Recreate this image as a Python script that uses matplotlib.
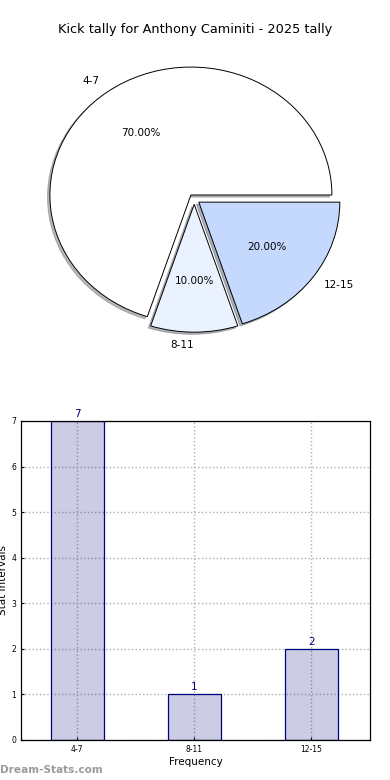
import numpy as np
import matplotlib
matplotlib.use("Agg")
import matplotlib.pyplot as plt

# data
categories = ["4-7", "8-11", "12-15"]
counts = [7, 1, 2]
pie_colors = ["#ffffff", "#eaf1ff", "#c5d9ff"]
title = "Kick tally for Anthony Caminiti - 2025 tally"

fig = plt.figure(figsize=(3.9, 7.8), dpi=100)

# ---- pie (not equal aspect, so it comes out as an ellipse)
ax1 = fig.add_axes([0.046, 0.5397, 0.904, 0.410])
wedges, texts, autotexts = ax1.pie(
    counts, labels=categories, colors=pie_colors, autopct="%.2f%%",
    explode=[0.04] * len(counts), shadow={"ox": -0.012, "oy": -0.012, "shade": 0.55},
    startangle=0,
    wedgeprops=dict(edgecolor="black", linewidth=0.7),
    textprops=dict(fontsize=7.5),
)
# the bottom label sits just left of centre in the original
texts[1].set_ha("right")
ax1.set_aspect("auto")
ax1.set_xlim(-1.25, 1.25)
ax1.set_ylim(-1.25, 1.25)
fig.text(0.5, 1 - 30 / 780, title, ha="center", va="center", fontsize=9.3)

# ---- bar chart
ax2 = fig.add_axes([0.0538, 0.0513, 0.895, 0.409])
x = np.arange(len(categories))
ax2.bar(x, counts, width=0.45, color="navy", alpha=0.2)
ax2.bar(x, counts, width=0.45, fill=False, edgecolor="navy", linewidth=0.9)
for xi, c in zip(x, counts):
    ax2.text(xi, c + 0.05, str(c), ha="center", va="bottom", color="navy", fontsize=7.5)
ax2.set_xlim(-0.48, 2.5)
ax2.set_ylim(0, 7)
ax2.set_xticks(x)
ax2.set_xticklabels(categories)
ax2.tick_params(labelsize=5.5, length=2, direction="in")
ax2.grid(True, linestyle=":", color="#b0b0b0", linewidth=1)
ax2.set_axisbelow(True)
ax2.set_xlabel("Frequency", fontsize=7.5, labelpad=2)
ax2.set_ylabel("Stat Intervals", fontsize=7.5, labelpad=2)
for s in ax2.spines.values():
    s.set_linewidth(0.9)

fig.text(0.0, 1 - 770 / 780, "Dream-Stats.com", ha="left", va="center",
         fontsize=7.6, color="#9a9a9a", fontweight="bold")

fig.savefig("out.png", dpi=100)
